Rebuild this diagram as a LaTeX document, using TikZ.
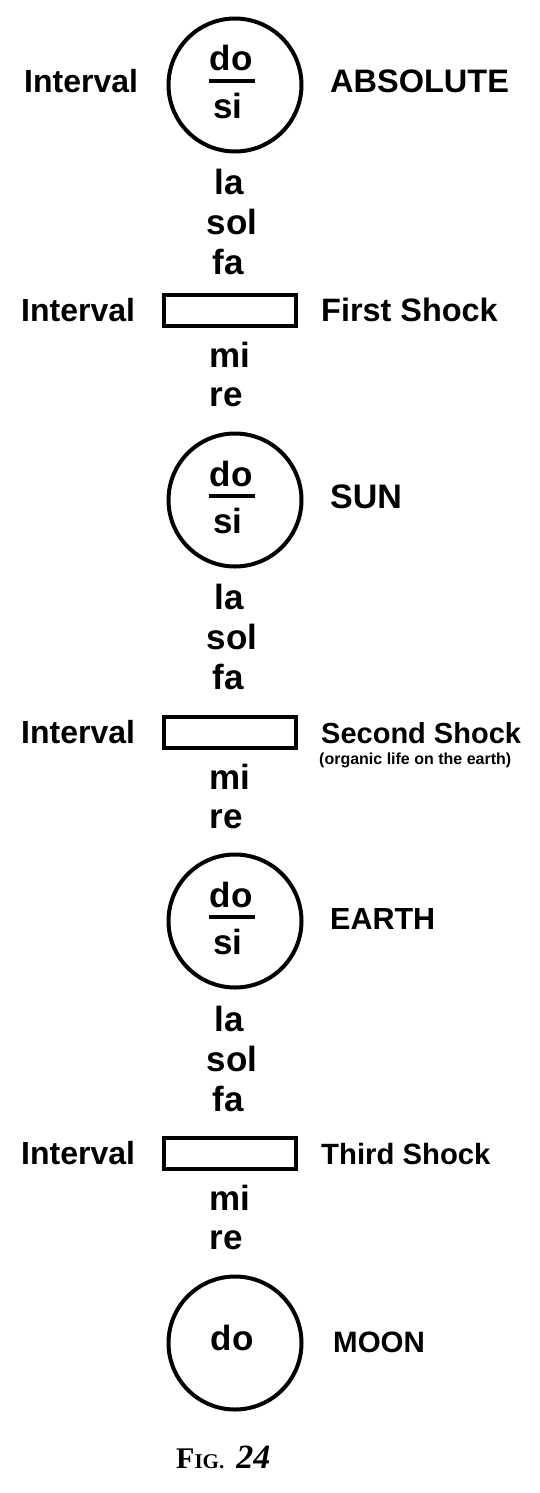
\documentclass[tikz,border=0pt]{standalone}
\usepackage{fontspec}
\newfontfamily\labelfont{Liberation Sans}
\newfontfamily\figfont{Liberation Serif}

\begin{document}
\begin{tikzpicture}[x=1pt,y=-1pt,
    note/.style={font=\labelfont\bfseries\fontsize{35}{40}\selectfont,inner sep=0pt,anchor=base},
    side/.style={font=\labelfont\bfseries\fontsize{32}{38}\selectfont,inner sep=0pt,anchor=base west},
    tag/.style={font=\labelfont\bfseries\fontsize{#1}{36}\selectfont,inner sep=0pt,anchor=base west},
    remark/.style={font=\labelfont\bfseries\fontsize{16}{19}\selectfont,inner sep=0pt,anchor=base west},
    world/.style={draw,circle,line width=4pt,minimum size=133pt,inner sep=0pt},
    gapbox/.style={draw,rectangle,line width=3.3pt,minimum width=132pt,minimum height=31pt,inner sep=0pt}]
   \useasboundingbox (0,0) rectangle (540,1493);
   % circles with do over si
   \foreach \n/\cy/\world/\sz in {1/85/ABSOLUTE/32.5, 2/500/SUN/34, 3/921/EARTH/30.5}
   {
     \node[world] (c\n) at (235,\cy) {};
     \node[note] (do\n) at (231,\cy-14) {do};
     \draw[line width=4.5pt] (209,\cy-4) -- (255,\cy-4); % fraction bar
     \node[note] (si\n) at (228,\cy+33) {si};
     \node[tag=\sz] (w\n) at (330,\cy+8) {\world};
   }
   \node[side] (int0) at (24,93) {Interval};
   % the intervals and their shocks
   \foreach \n/\ly/\by/\shock/\sz in {1/194/310.5/First Shock/32.4, 2/609/732.5/Second Shock/29, 3/1031/1153.5/Third Shock/29.3}
   {
     \node[note] (la\n) at (229,\ly) {la};
     \node[note] (sol\n) at (232,\ly+40) {sol};
     \node[note] (fa\n) at (228,\ly+80) {fa};
     \node[gapbox] (b\n) at (230,\by) {};
     \node[side] (int\n) at (21,\by+11) {Interval};
     \node[tag=\sz] (s\n) at (321,\by+10.5) {\shock};
     \node[note] (mi\n) at (230,\by+56.5) {mi};
     \node[note] (re\n) at (226,\by+95.5) {re};
   }
   \node[remark] (life) at (319,764) {(organic life on the earth)};
   % moon
   \node[world] (c4) at (235,1343) {};
   \node[note] (do4) at (232,1350) {do};
   \node[tag=29.5] (w4) at (333,1352) {MOON};
   \node[inner sep=0pt,anchor=base west] (caption) at (176,1468)
     {\figfont\bfseries\fontsize{30}{36}\selectfont F\fontsize{21}{25}\selectfont IG.\hspace{12pt}\fontsize{34}{40}\selectfont\itshape 24};
\end{tikzpicture}
\end{document}
